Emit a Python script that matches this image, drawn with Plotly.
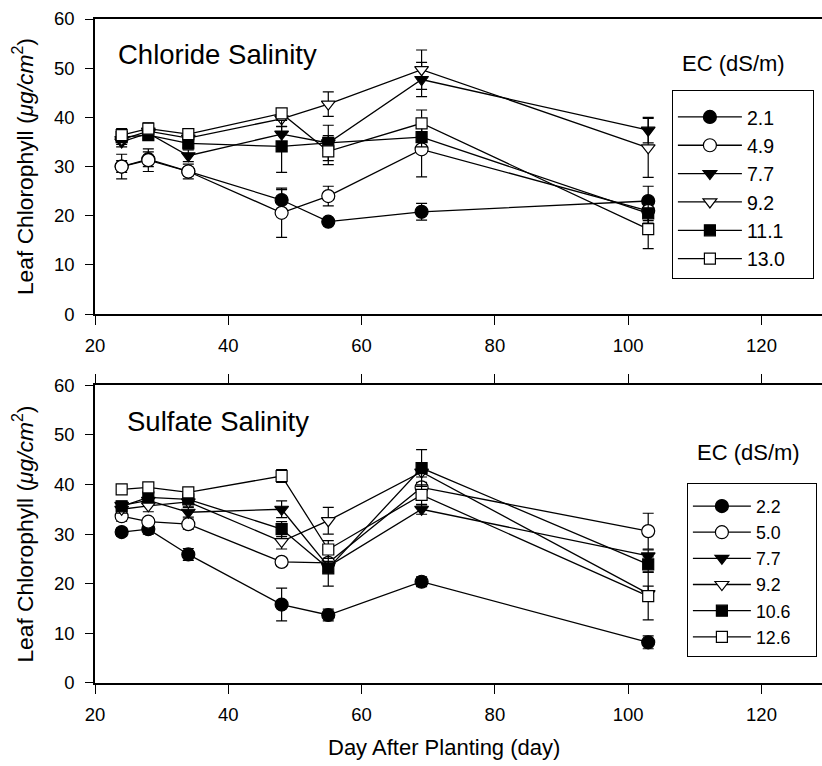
import plotly.graph_objects as go

# ---------------- data ----------------
days = [24, 28, 34, 48, 55, 69, 103]

x_ticks = [20, 40, 60, 80, 100, 120]
y_ticks = [0, 10, 20, 30, 40, 50, 60]

# Chloride salinity (EC dS/m)
cl_labels = ["2.1", "4.9", "7.7", "9.2", "11.1", "13.0"]
cl_2_1 = [30.0, 31.5, 29.0, 23.2, 18.8, 20.8, 23.0]
cl_2_1_err = [1.2, 1.5, 0.8, 2.1, 0.6, 1.7, 3.0]
cl_4_9 = [30.0, 31.3, 29.0, 20.6, 24.0, 33.5, 21.0]
cl_4_9_err = [2.5, 2.3, 1.5, 5.0, 2.0, 5.6, 2.0]
cl_7_7 = [35.0, 36.8, 32.2, 36.6, 34.8, 47.7, 37.4]
cl_7_7_err = [1.0, 1.0, 1.2, 1.5, 1.5, 3.5, 2.6]
cl_9_2 = [35.5, 37.2, 35.8, 39.7, 42.7, 49.7, 33.8]
cl_9_2_err = [1.0, 1.0, 0.8, 1.5, 2.5, 4.0, 6.0]
cl_11_1 = [36.0, 36.4, 34.7, 34.1, 34.8, 36.0, 20.5]
cl_11_1_err = [1.0, 1.0, 0.8, 5.3, 3.6, 2.0, 2.0]
cl_13_0 = [36.4, 37.7, 36.6, 40.8, 33.1, 38.8, 17.3]
cl_13_0_err = [1.3, 1.2, 0.8, 1.0, 2.7, 2.7, 4.0]

# Sulfate salinity (EC dS/m)
su_labels = ["2.2", "5.0", "7.7", "9.2", "10.6", "12.6"]
su_2_2 = [30.4, 31.0, 25.9, 15.8, 13.7, 20.4, 8.2]
su_2_2_err = [0.8, 1.0, 1.2, 3.3, 1.2, 1.0, 1.3]
su_5_0 = [33.6, 32.5, 32.0, 24.4, 24.2, 39.4, 30.6]
su_5_0_err = [1.0, 0.8, 1.0, 0.8, 0.8, 1.0, 3.6]
su_7_7 = [35.8, 36.8, 34.4, 35.0, 23.5, 35.0, 25.6]
su_7_7_err = [0.8, 0.8, 1.0, 1.7, 1.0, 1.0, 1.2]
su_9_2 = [35.0, 35.7, 36.5, 28.5, 32.7, 42.5, 18.0]
su_9_2_err = [0.8, 1.2, 1.0, 1.5, 2.7, 1.0, 1.5]
su_10_6 = [35.6, 37.4, 37.0, 31.0, 23.1, 43.3, 23.9]
su_10_6_err = [0.8, 1.0, 0.8, 1.5, 3.6, 3.7, 1.5]
su_12_6 = [39.0, 39.4, 38.4, 41.7, 26.9, 37.9, 17.5]
su_12_6_err = [0.6, 0.8, 0.8, 1.3, 1.8, 2.0, 4.8]

# ---------------- styles ----------------
FONT = "Liberation Sans, Arial, Helvetica, sans-serif"
symbols = ["circle", "circle", "triangle-down", "triangle-down", "square", "square"]
fills = ["black", "white", "black", "white", "black", "white"]
sizes = [13, 13, 12, 12, 11, 11]

cl_series = [(cl_2_1, cl_2_1_err), (cl_4_9, cl_4_9_err), (cl_7_7, cl_7_7_err),
             (cl_9_2, cl_9_2_err), (cl_11_1, cl_11_1_err), (cl_13_0, cl_13_0_err)]
su_series = [(su_2_2, su_2_2_err), (su_5_0, su_5_0_err), (su_7_7, su_7_7_err),
             (su_9_2, su_9_2_err), (su_10_6, su_10_6_err), (su_12_6, su_12_6_err)]

fig = go.Figure()

def add_panel(series, labels, xa, ya, legend_name, pad):
    for i, ((vals, errs), lab) in enumerate(zip(series, labels)):
        fig.add_trace(go.Scatter(
            x=days, y=vals, name=lab + "\u00a0" * pad, xaxis=xa, yaxis=ya,
            mode="lines+markers",
            line=dict(color="black", width=1.3),
            marker=dict(symbol=symbols[i], size=sizes[i], color=fills[i],
                        line=dict(color="black", width=1.2)),
            error_y=dict(type="data", array=errs, visible=True,
                         color="black", thickness=1.2, width=5.5),
            legend=legend_name,
        ))

add_panel(cl_series, cl_labels, "x", "y", "legend", 4)
add_panel(su_series, su_labels, "x2", "y2", "legend2", 4)

# ---------------- layout ----------------
W, H = 822, 766
ML, MR, MT, MB = 95, 0, 19, 83.3
PH = H - MT - MB
PW = W - ML - MR

def px_x(px):
    return (px - ML) / PW

def px_y(py):
    return (H - MB - py) / PH

top_dom = [px_y(314), 1.0]
bot_dom = [0.0, px_y(385)]

axis_common = dict(showgrid=False, zeroline=False, showline=True, linecolor="black",
                   linewidth=1.5, ticks="outside", tickcolor="black", tickwidth=1.3,
                   tickfont=dict(family=FONT, size=18.5, color="black"))

ytitle = "Leaf Chlorophyll (<i>μg/cm</i><sup>2</sup>)"
xmax = 20 + PW / (133.3 / 20)

fig.update_layout(
    width=W, height=H,
    margin=dict(l=ML, r=MR, t=MT, b=MB),
    paper_bgcolor="white", plot_bgcolor="white",
    font=dict(family=FONT, color="black"),
    xaxis=dict(domain=[0, 1], range=[20, xmax], anchor="y",
               tickvals=x_ticks, ticklen=9, mirror=True, ticklabelstandoff=5,
               **axis_common),
    yaxis=dict(domain=top_dom, range=[0, 60], anchor="x", tickvals=y_ticks, ticklen=8,
               ticklabelstandoff=7,
               title=dict(text=ytitle, font=dict(family=FONT, size=22.8), standoff=14),
               **axis_common),
    xaxis2=dict(domain=[0, 1], range=[20, xmax], anchor="y2",
                tickvals=x_ticks, ticklen=9, mirror="ticks", ticklabelstandoff=5,
                **axis_common),
    yaxis2=dict(domain=bot_dom, range=[0, 60], anchor="x2", tickvals=y_ticks, ticklen=8,
                ticklabelstandoff=7,
                title=dict(text=ytitle, font=dict(family=FONT, size=22.8), standoff=14),
                **axis_common),
    legend=dict(x=px_x(671.7), y=px_y(90), xanchor="left", yanchor="top",
                bordercolor="black", borderwidth=1.2, bgcolor="white",
                font=dict(family=FONT, size=19.5, color="black"),
                title=dict(text="\u00a0", font=dict(size=5)),
                itemwidth=64, tracegroupgap=0),
    legend2=dict(x=px_x(686.7), y=px_y(482.7), xanchor="left", yanchor="top",
                 bordercolor="black", borderwidth=1.2, bgcolor="white",
                 font=dict(family=FONT, size=17.8, color="black"),
                 title=dict(text="\u00a0", font=dict(size=3)),
                 itemwidth=58, tracegroupgap=0),
    showlegend=True,
)

ann = [
    dict(text="Chloride Salinity", x=px_x(116), y=px_y(54), size=27.5),
    dict(text="Sulfate Salinity", x=px_x(125), y=px_y(421), size=27.5),
    dict(text="EC (dS/m)", x=px_x(680), y=px_y(63), size=22),
    dict(text="EC (dS/m)", x=px_x(695), y=px_y(452), size=22),
]
for a in ann:
    fig.add_annotation(text=a["text"], x=a["x"], y=a["y"], xref="paper", yref="paper",
                       xanchor="left", yanchor="middle", showarrow=False,
                       font=dict(family=FONT, size=a["size"], color="black"))

fig.add_annotation(text="Day After Planting (day)", x=px_x(444), y=px_y(747),
                   xref="paper", yref="paper", xanchor="center", yanchor="middle",
                   showarrow=False, font=dict(family=FONT, size=22, color="black"))

fig.write_html("out.html")
